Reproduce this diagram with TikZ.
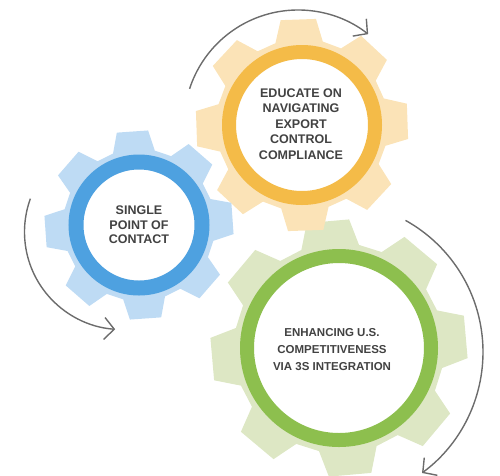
\documentclass[tikz,border=0pt]{standalone}
\usepackage{fontspec}
\setmainfont{Liberation Sans}
\usetikzlibrary{arrows.meta,calc}

\definecolor{bluebody}{RGB}{190,219,244}
\definecolor{bluering}{RGB}{78,161,224}
\definecolor{yellowbody}{RGB}{251,227,183}
\definecolor{yellowring}{RGB}{244,187,72}
\definecolor{greenbody}{RGB}{221,231,196}
\definecolor{greenring}{RGB}{141,191,78}
\definecolor{labelgray}{RGB}{66,66,66}
\definecolor{arrowgray}{RGB}{108,108,108}

\tikzset{
  gearlabel/.style={align=center,text=labelgray,inner sep=0pt},
  turnarrow/.style={draw=arrowgray,line width=1.4pt,-{Straight Barb[length=10pt,width=22pt]}}
}

\begin{document}
\begin{tikzpicture}[x=1pt,y=-1pt]
\useasboundingbox (0,0) rectangle (500,475);
\coordinate (bluec) at (139,225);
\coordinate (yellowc) at (302,125);
\coordinate (greenc) at (339,348);
\foreach \g/\rt/\rb/\rot/\gbody/\gring/\rr/\rw in {greenc/129/105/-5/greenbody/greenring/92/14,yellowc/107/86/-2/yellowbody/yellowring/73/14,bluec/95/76/-4/bluebody/bluering/63/15}{
  \fill[\gbody] ($(\g)+(\rot-16:\rb)$) \foreach \k in {0,...,7}{ -- ($(\g)+(\k*45+\rot-16:\rb)$) -- ($(\g)+(\k*45+\rot-9.5:\rt)$) -- ($(\g)+(\k*45+\rot+9.5:\rt)$) -- ($(\g)+(\k*45+\rot+16:\rb)$)} -- cycle;
  \draw[\gring,line width=\rw pt,fill=white] (\g) circle[radius=\rr];
}
\node[gearlabel,font=\bfseries\fontsize{12.5}{14.5}\selectfont] (single) at (139,225) {SINGLE\\POINT OF\\CONTACT};
\node[gearlabel,font=\bfseries\fontsize{12.5}{15.5}\selectfont] (educate) at (301,124) {EDUCATE ON\\NAVIGATING\\EXPORT\\CONTROL\\COMPLIANCE};
\node[gearlabel,font=\bfseries\fontsize{11.5}{17}\selectfont] (enhancing) at (332,350) {ENHANCING U.S.\\COMPETITIVENESS\\VIA 3S INTEGRATION};
\coordinate (bluetail) at ($(122,232)+(200:97.5)$);
\coordinate (yellowtail) at ($(298,124)+(198:114)$);
\coordinate (greentail) at ($(332.5,352)+(299:150.5)$);
\draw[turnarrow] (bluetail) arc[start angle=200,end angle=94,radius=97.5];
\draw[turnarrow] (yellowtail) arc[start angle=198,end angle=308,radius=114];
\draw[turnarrow] (greentail) arc[start angle=299,end angle=413.5,radius=150.5];
\end{tikzpicture}
\end{document}
